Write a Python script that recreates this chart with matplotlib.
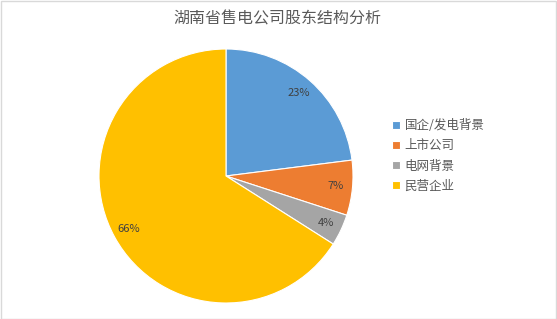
import matplotlib
matplotlib.use("Agg")
import matplotlib.pyplot as plt
from matplotlib.patches import Rectangle

plt.rcParams['font.family'] = ['Noto Sans CJK SC', 'DejaVu Sans']

title = "湖南省售电公司股东结构分析"
categories = ["国企/发电背景", "上市公司", "电网背景", "民营企业"]
values = [23, 7, 4, 66]
colors = ["#5B9BD5", "#ED7D31", "#A5A5A5", "#FFC000"]

W, H = 557, 319
fig = plt.figure(figsize=(W / 100, H / 100), dpi=100)
fig.patch.set_facecolor("white")
fig.add_artist(Rectangle((0.5 / W, 0.5 / H), 1 - 1.5 / W, 1 - 1.5 / H, transform=fig.transFigure,
                         fill=False, edgecolor="#D9D9D9", linewidth=1))

cx, cy, r = 226, 176, 127
ax = fig.add_axes([(cx - r) / W, (H - cy - r) / H, 2 * r / W, 2 * r / H])
wedges, texts, autotexts = ax.pie(values, colors=colors, startangle=90, counterclock=False,
                                  autopct=lambda p: f"{p:.0f}%", pctdistance=0.87,
                                  wedgeprops=dict(edgecolor="white", linewidth=0.8),
                                  textprops=dict(fontsize=8, color="#404040"))
ax.set_xlim(-1, 1)
ax.set_ylim(-1, 1)
ax.axis("off")

fig.text(277 / W, 1 - 19 / H, title, ha="center", va="center", fontsize=11.5, color="#595959")

fig.legend(wedges, categories, loc="upper left", bbox_to_anchor=(392 / W, 1 - 119 / H),
           frameon=False, fontsize=9, labelcolor="#595959", handlelength=0.6, handleheight=0.6,
           handletextpad=0.4, labelspacing=0.58, borderaxespad=0, borderpad=0)

fig.savefig("out.png", dpi=100)
